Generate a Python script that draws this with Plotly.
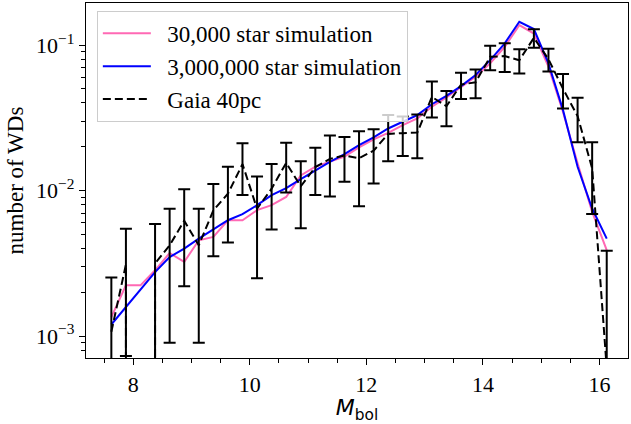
import numpy as np
import plotly.graph_objects as go

# Bolometric magnitude bin centres
mbol = [7.625, 7.875, 8.125, 8.375, 8.625, 8.875, 9.125, 9.375, 9.625, 9.875,
        10.125, 10.375, 10.625, 10.875, 11.125, 11.375, 11.625, 11.875, 12.125, 12.375,
        12.625, 12.875, 13.125, 13.375, 13.625, 13.875, 14.125, 14.375, 14.625, 14.875,
        15.125, 15.375, 15.625, 15.875, 16.125]

# Normalised luminosity functions
sim_30k = [1.35e-3, 2.23e-3, 2.23e-3, 2.83e-3, 3.72e-3, 3.23e-3, 4.55e-3, 4.80e-3, 6.25e-3, 6.25e-3,
           7.33e-3, 7.93e-3, 9.03e-3, 1.27e-2, 1.46e-2, 1.58e-2, 1.71e-2, 1.98e-2, 2.25e-2, 2.49e-2,
           2.82e-2, 3.13e-2, 3.77e-2, 4.36e-2, 5.11e-2, 6.05e-2, 7.48e-2, 9.73e-2, 0.137, 0.120,
           7.10e-2, 3.47e-2, 1.54e-2, 7.13e-3, 3.89e-3]

sim_3m = [1.20e-3, 1.585e-3, 2.12e-3, 2.75e-3, 3.49e-3, 3.99e-3, 4.67e-3, 5.39e-3, 6.25e-3, 6.88e-3,
          7.93e-3, 9.29e-3, 1.04e-2, 1.197e-2, 1.38e-2, 1.575e-2, 1.778e-2, 2.05e-2, 2.32e-2, 2.67e-2,
          2.97e-2, 3.30e-2, 3.92e-2, 4.48e-2, 5.22e-2, 6.22e-2, 7.88e-2, 0.1027, 0.1446, 0.1288,
          7.48e-2, 3.57e-2, 1.456e-2, 7.52e-3, 4.67e-3]

gaia = [1.07e-3, 3.1e-3, 0.0, 3.15e-3, 4.2e-3, 6.2e-3, 4.2e-3, 7.3e-3, 9.5e-3, 1.52e-2,
        7.5e-3, 1.03e-2, 1.55e-2, 1.07e-2, 1.45e-2, 1.65e-2, 1.74e-2, 1.67e-2, 1.88e-2, 2.45e-2,
        2.48e-2, 2.5e-2, 4.4e-2, 3.8e-2, 5.35e-2, 5.55e-2, 8.3e-2, 8.4e-2, 7.86e-2, 0.112,
        8.0e-2, 5.0e-2, 3.25e-2, 1.42e-2, 6e-4]

gaia_err = [1.46e-3, 2.37e-3, 1.57e-3, 2.75e-3, 3.3e-3, 4.0e-3, 3.3e-3, 3.77e-3, 5.1e-3, 5.9e-3,
            5.0e-3, 4.9e-3, 5.8e-3, 5.2e-3, 5.2e-3, 7.4e-3, 5.9e-3, 8.9e-3, 7.6e-3, 8.6e-3,
            7.5e-3, 8.3e-3, 1.22e-2, 1.03e-2, 1.1e-2, 1.25e-2, 1.58e-2, 1.87e-2, 1.48e-2, 1.62e-2,
            1.42e-2, 1.33e-2, 1.1e-2, 7.3e-3, 3.25e-3]

y_major = [1e-3, 1e-2, 1e-1]
y_major_text = ["10<sup>\u22123</sup>", "10<sup>\u22122</sup>", "10<sup>\u22121</sup>"]
x_major = [8, 10, 12, 14, 16]

serif = "Liberation Serif"
pad = "\u00a0\u00a0"  # small gap between legend swatch and label

fig = go.Figure()

fig.add_trace(go.Scatter(
    x=mbol, y=sim_30k, mode="lines", name=pad + "30,000 star simulation",
    line=dict(color="#ff69b4", width=2), legendgroup="a"))
fig.add_trace(go.Scatter(
    x=mbol, y=sim_3m, mode="lines", name=pad + "3,000,000 star simulation",
    line=dict(color="#0000ff", width=2), legendgroup="b"))
fig.add_trace(go.Scatter(
    x=mbol, y=gaia, mode="lines", name=pad + "Gaia 40pc",
    line=dict(color="black", width=2, dash="8px,4px"),
    error_y=dict(type="data", array=gaia_err, symmetric=True,
                 color="black", thickness=2, width=6),
    legendgroup="c"))

# minor ticks at 2..9 times each decade
minor_y = [m * 10.0 ** e for e in range(-4, 0) for m in range(2, 10)]

axis_common = dict(
    showline=True, mirror=True, linecolor="black", linewidth=1.3,
    ticks="outside", ticklen=6, tickwidth=1.3, tickcolor="black",
    showgrid=False, zeroline=False,
    tickfont=dict(family=serif, size=22, color="black"),
)

fig.update_layout(
    width=631, height=424,
    margin=dict(l=86, r=3, t=3, b=66),
    plot_bgcolor="white", paper_bgcolor="white",
    font=dict(family=serif, size=23, color="black"),
    showlegend=True,
    legend=dict(
        x=0.02, y=0.978, xanchor="left", yanchor="top",
        bgcolor="rgba(255,255,255,0.8)", bordercolor="#cccccc", borderwidth=1,
        font=dict(family=serif, size=23, color="black"),
        itemwidth=48, tracegroupgap=0,
    ),
    xaxis=dict(
        axis_common, range=[7.19, 16.49], tickmode="array", tickvals=x_major,
        minor=dict(ticks="outside", ticklen=3.5, tickwidth=1, tickcolor="black",
                   dtick=0.5, tick0=0, showgrid=False),
        title=dict(text="<i>M</i><sub>bol</sub>",
                   font=dict(family="DejaVu Sans", size=22, color="black"),
                   standoff=8),
    ),
    yaxis=dict(
        axis_common, type="log", range=[-3.151, -0.711],
        tickmode="array", tickvals=y_major, ticktext=y_major_text,
        minor=dict(ticks="outside", ticklen=3.5, tickwidth=1, tickcolor="black",
                   tickmode="array", tickvals=minor_y, showgrid=False),
        title=dict(text="number of WDs", font=dict(family=serif, size=23, color="black"),
                   standoff=6),
    ),
)

fig.write_html("out.html")
